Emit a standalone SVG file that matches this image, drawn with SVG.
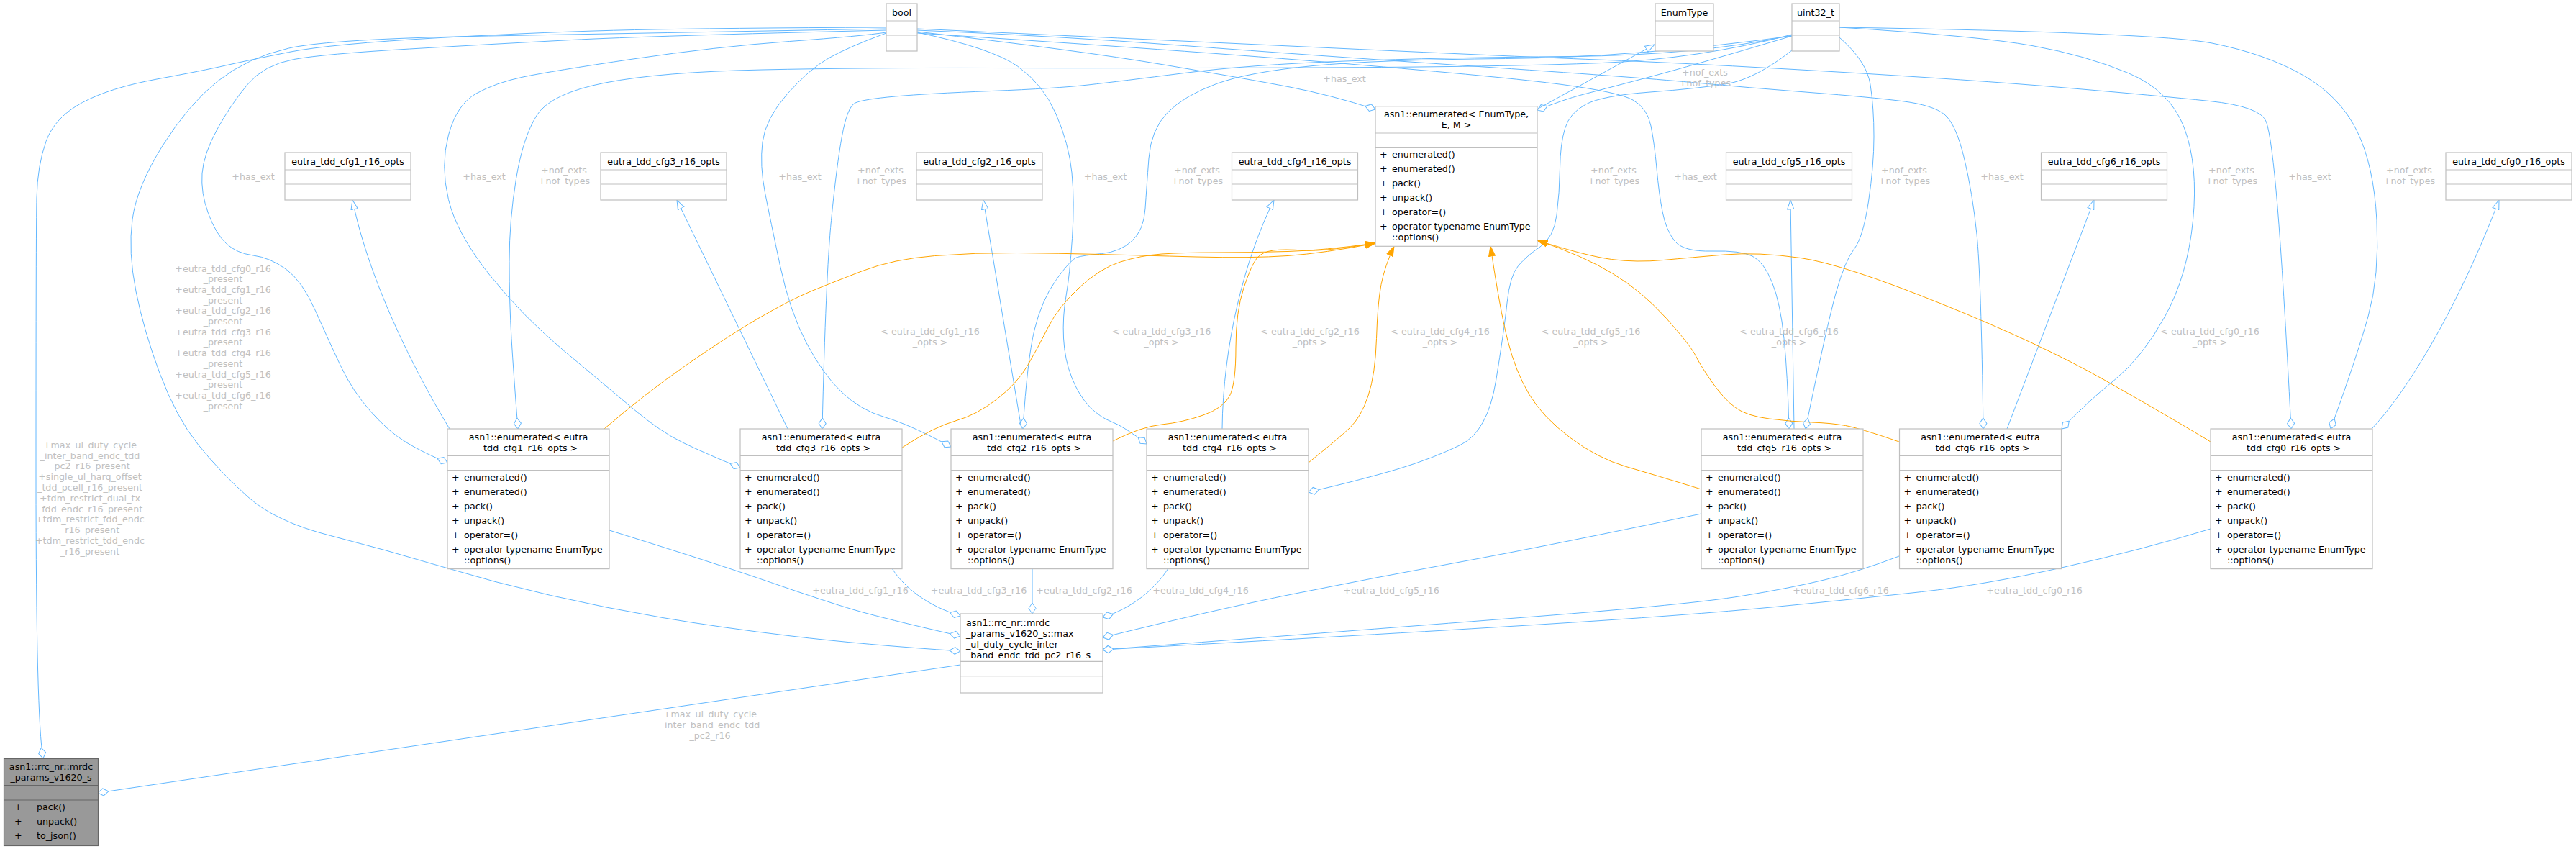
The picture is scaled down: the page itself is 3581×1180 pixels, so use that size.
<svg xmlns="http://www.w3.org/2000/svg" width="3581" height="1180" viewBox="0 0 3581 1180">
<style>
.box{fill:#fff;stroke:#BFBFBF;stroke-width:1.2}
.gbox{fill:#999;stroke:#666;stroke-width:1.2}
.sep{stroke:#BFBFBF;stroke-width:1.2}
.gsep{stroke:#666;stroke-width:1.2}
text{font-family:"DejaVu Sans",sans-serif;font-size:12.7px;fill:#000}
.c{text-anchor:middle}
.lbl{fill:#C0C0C0;text-anchor:middle}
.u{fill:none;stroke:#63B8FF;stroke-width:1;marker-end:url(#dia)}
.i{fill:none;stroke:#63B8FF;stroke-width:1;marker-end:url(#tri)}
.o{fill:none;stroke:#FFA500;stroke-width:1;marker-end:url(#arr)}
</style>
<defs>
<marker id="dia" viewBox="0 0 16 12" refX="15.5" refY="6" markerWidth="16" markerHeight="12" markerUnits="userSpaceOnUse" orient="auto"><path d="M0.5,6 L8,1 L15.5,6 L8,11 Z" fill="#fff" stroke="#63B8FF" stroke-width="1"/></marker>
<marker id="tri" viewBox="0 0 14 11" refX="13.5" refY="5.5" markerWidth="14" markerHeight="11" markerUnits="userSpaceOnUse" orient="auto"><path d="M0.5,0.8 L13.5,5.5 L0.5,10.2 Z" fill="#fff" stroke="#63B8FF" stroke-width="1"/></marker>
<marker id="arr" viewBox="0 0 15 11" refX="14.5" refY="5.5" markerWidth="15" markerHeight="11" markerUnits="userSpaceOnUse" orient="auto"><path d="M0.5,1 L14.5,5.5 L0.5,10 Z" fill="#FFA500" stroke="#FFA500"/></marker>
</defs>
<rect x="0" y="0" width="3581" height="1180" fill="#fff"/>
<g id="edges">
<path class="u" d="M1232,38 Q1000,39 882.5,41.5 Q765,44 612,52.5 Q459,61 401.5,72.5 Q344,84 313.5,91 Q283,98 218,110 Q153,122 114.5,142.5 Q76,163 64,196.5 Q52,230 51,275 Q50,320 50,660 Q50,1000 60,1054"/>
<path class="u" d="M1232,40 Q900,46 679.5,50 Q459,54 401.5,67 Q344,80 303,112.5 Q262,145 226,202.5 Q190,260 184,305 Q178,350 189,405 Q200,460 222.5,520 Q245,580 275.5,618 Q306,656 344.5,690.5 Q383,725 459.5,744.5 Q536,764 612.5,787 Q689,810 765.5,827.5 Q842,845 921,858.5 Q1000,872 1100,884 Q1200,896 1335,905"/>
<path class="u" d="M1232,42 Q900,50 794.5,55.5 Q689,61 569.5,68 Q450,75 408.5,82.5 Q367,90 344,117.5 Q321,145 302,179.5 Q283,214 281,241 Q279,268 289.5,296.5 Q300,325 314.5,338.5 Q329,352 352,355 Q375,358 397.5,374 Q420,390 439.5,434 Q459,478 474.5,510.5 Q490,543 515,571.5 Q540,600 565,615 Q590,630 622,643"/>
<path class="u" d="M1232,45 Q1200,50 1097.5,57.5 Q995,65 880,82 Q765,99 727,107 Q689,115 662,130 Q635,145 623.5,187.5 Q612,230 623.5,277.5 Q635,325 681,382.5 Q727,440 784.5,488 Q842,536 880,568 Q918,600 949,615 Q980,630 1029,650"/>
<path class="u" d="M1232,46 Q1180,65 1152.5,80.5 Q1125,96 1094.5,130.5 Q1064,165 1060,197.5 Q1056,230 1063.5,268 Q1071,306 1084.5,369.5 Q1098,433 1121,476.5 Q1144,520 1170,545 Q1196,570 1230.5,580 Q1265,590 1322,621"/>
<path class="u" d="M1275,45 Q1379,67 1414.5,92 Q1450,117 1468,158.5 Q1486,200 1490,240 Q1494,280 1490.5,331.5 Q1487,383 1482,411.5 Q1477,440 1478.5,470 Q1480,500 1490,525 Q1500,550 1514.5,565 Q1529,580 1546,586.5 Q1563,593 1594,617"/>
<path class="u" d="M1275,44 Q1500,70 1618,90 Q1736,110 1793,121 Q1850,132 1912,152"/>
<path class="u" d="M1275,46 Q1647,70 1870,88.5 Q2093,107 2171.5,117.5 Q2250,128 2270,139 Q2290,150 2295,175 Q2300,200 2303,234 Q2306,268 2311,294 Q2316,320 2328,335 Q2340,350 2380,349 Q2420,348 2436,356 Q2452,364 2463.5,392.5 Q2475,421 2480,470.5 Q2485,520 2487,596"/>
<path class="u" d="M1275,42 Q1468,50 1646.5,63.5 Q1825,77 2048,92 Q2271,107 2351.5,114.5 Q2432,122 2516,128.5 Q2600,135 2643.5,140.5 Q2687,146 2703,159 Q2719,172 2730.5,220 Q2742,268 2748,325.5 Q2754,383 2757,596"/>
<path class="u" d="M1275,40 Q1557,53 1825,65.5 Q2093,78 2221.5,83 Q2350,88 2546,99.5 Q2742,111 2871,122 Q3000,133 3071.5,140.5 Q3143,148 3150.5,169.5 Q3158,191 3166,287 Q3174,383 3185,596"/>
<path class="u" d="M2491,50 Q2350,92 2285.5,109 Q2221,126 2198,132 Q2175,138 2137,153"/>
<path class="i" d="M2140,150 L2300,62"/>
<path class="u" d="M2491,48 Q2361,82 2227,87.5 Q2093,93 1825,94 Q1557,95 1378.5,94.5 Q1200,94 1059,97 Q918,100 841.5,115 Q765,130 746,160.5 Q727,191 717.5,248.5 Q708,306 708,363.5 Q708,421 711,470.5 Q714,520 720,596"/>
<path class="u" d="M2491,49 Q2361,77 2182.5,78.5 Q2004,80 1870,85 Q1736,90 1646.5,101.5 Q1557,113 1512.5,118 Q1468,123 1378.5,126.5 Q1289,130 1244.5,134 Q1200,138 1189,143 Q1178,148 1170.5,189 Q1163,230 1155.5,306.5 Q1148,383 1143,596"/>
<path class="u" d="M2491,50 Q2271,80 2092.5,81.5 Q1914,83 1825,91.5 Q1736,100 1691,116.5 Q1646,133 1623,156.5 Q1600,180 1597,220 Q1594,260 1592,290 Q1590,320 1573.5,335 Q1557,350 1531.5,352.5 Q1506,355 1497.5,357.5 Q1489,360 1468.5,388.5 Q1448,417 1438,458.5 Q1428,500 1422,596"/>
<path class="u" d="M2491,70 Q2440,110 2400.5,116.5 Q2361,123 2294,128 Q2227,133 2204.5,145 Q2182,157 2175.5,178.5 Q2169,200 2168.5,234 Q2168,268 2164,299 Q2160,330 2141,343 Q2122,356 2110.5,369.5 Q2099,383 2095,421 Q2091,459 2079.5,529.5 Q2068,600 2030,618.5 Q1992,637 1946,651 Q1900,665 1819,684"/>
<path class="u" d="M2557,52 Q2595,85 2600,117.5 Q2605,150 2605,190 Q2605,230 2597.5,280 Q2590,330 2577.5,346 Q2565,362 2552.5,406 Q2540,450 2510,596"/>
<path class="u" d="M2557,38 Q2750,50 2825,63.5 Q2900,77 2958.5,101.5 Q3017,126 3036.5,178 Q3056,230 3048.5,306.5 Q3041,383 3009.5,440 Q2978,497 2939,528.5 Q2900,560 2866,596"/>
<path class="u" d="M2557,38 Q3000,45 3075,60 Q3150,75 3201.5,104.5 Q3253,134 3276.5,182 Q3300,230 3304,306.5 Q3308,383 3292,440 Q3276,497 3240,596"/>
<path class="i" d="M625,596 C585,530 515,400 490,278"/>
<path class="i" d="M1095,596 L941,278"/>
<path class="i" d="M1420,596 L1367,278"/>
<path class="i" d="M1699,596 C1700,480 1730,360 1771,278"/>
<path class="i" d="M2494,596 L2489,278"/>
<path class="i" d="M2790,596 L2911,278"/>
<path class="i" d="M3297,596 C3350,540 3420,420 3474,278"/>
<path class="o" d="M840,596 Q897,547 954.5,507 Q1012,467 1055,442 Q1098,417 1127,405 Q1156,393 1199,376.5 Q1242,360 1299.5,355.5 Q1357,351 1414,351.5 Q1471,352 1528.5,353.5 Q1586,355 1663,357 Q1740,359 1790,355.5 Q1840,352 1912,338"/>
<path class="o" d="M1254,622 Q1299,593 1328,585 Q1357,577 1385.5,555 Q1414,533 1428.5,508 Q1443,483 1457,455 Q1471,427 1500,400 Q1529,373 1557.5,364 Q1586,355 1615,353 Q1644,351 1692,351 Q1740,351 1790,349.5 Q1840,348 1912,338"/>
<path class="o" d="M1547,613 Q1586,593 1615,590 Q1644,587 1672.5,577 Q1701,567 1709.5,550 Q1718,533 1718,483 Q1718,433 1729,400 Q1740,367 1747.5,358.5 Q1755,350 1770,348 Q1785,346 1812,348 Q1839,350 1912,338"/>
<path class="o" d="M1819,643 Q1860,610 1876,595 Q1892,580 1902,550 Q1912,520 1913.5,470.5 Q1915,421 1920,395.5 Q1925,370 1938,342"/>
<path class="o" d="M2365,680 Q2300,660 2260.5,648.5 Q2221,637 2183,608.5 Q2145,580 2126,548.5 Q2107,517 2096,473.5 Q2085,430 2072,342"/>
<path class="o" d="M2640,614 Q2585,595 2565.5,591.5 Q2546,588 2518.5,587 Q2491,586 2459.5,582 Q2428,578 2412.5,566.5 Q2397,555 2381,532.5 Q2365,510 2357.5,495 Q2350,480 2316.5,442.5 Q2283,405 2241.5,380 Q2200,355 2137,334"/>
<path class="o" d="M3073,614 Q3017,580 2927,529 Q2837,478 2699.5,422.5 Q2562,367 2503,358.5 Q2444,350 2397,354 Q2350,358 2312.5,361.5 Q2275,365 2240.5,360.5 Q2206,356 2137,334"/>
<path class="u" d="M847,737 Q995,783 1071.5,809.5 Q1148,836 1187,847.5 Q1226,859 1335,884"/>
<path class="u" d="M1240,790 C1258,818 1290,842 1335,856"/>
<path class="u" d="M1435,790 L1435,853"/>
<path class="u" d="M1624,790 C1605,820 1572,846 1533,858"/>
<path class="u" d="M2365,714 Q2145,760 2030,781 Q1915,802 1800.5,825 Q1686,848 1533,886"/>
<path class="u" d="M2640,773 Q2585,794 2538,805.5 Q2491,817 2420.5,828.5 Q2350,840 2132.5,857 Q1915,874 1533,903"/>
<path class="u" d="M3073,735 Q2978,764 2868,788.5 Q2758,813 2671.5,822.5 Q2585,832 2467.5,843.5 Q2350,855 2132.5,868.5 Q1915,882 1533,903"/>
<path class="u" d="M1335,924 L136,1102"/>
</g>
<g id="edge-labels">
<text class="lbl" x="352" y="249.5">+has_ext</text>
<text class="lbl" x="673" y="249.5">+has_ext</text>
<text class="lbl" x="784" y="241">+nof_exts</text><text class="lbl" x="784" y="256">+nof_types</text>
<text class="lbl" x="1112" y="249.5">+has_ext</text>
<text class="lbl" x="1224" y="241">+nof_exts</text><text class="lbl" x="1224" y="256">+nof_types</text>
<text class="lbl" x="1536.5" y="249.5">+has_ext</text>
<text class="lbl" x="1664" y="241">+nof_exts</text><text class="lbl" x="1664" y="256">+nof_types</text>
<text class="lbl" x="1869" y="113.5">+has_ext</text>
<text class="lbl" x="2370" y="104.5">+nof_exts</text><text class="lbl" x="2370" y="120">+nof_types</text>
<text class="lbl" x="2243" y="241">+nof_exts</text><text class="lbl" x="2243" y="256">+nof_types</text>
<text class="lbl" x="2357" y="249.5">+has_ext</text>
<text class="lbl" x="2647" y="241">+nof_exts</text><text class="lbl" x="2647" y="256">+nof_types</text>
<text class="lbl" x="2783" y="249.5">+has_ext</text>
<text class="lbl" x="3102" y="241">+nof_exts</text><text class="lbl" x="3102" y="256">+nof_types</text>
<text class="lbl" x="3211" y="249.5">+has_ext</text>
<text class="lbl" x="3349" y="241">+nof_exts</text><text class="lbl" x="3349" y="256">+nof_types</text>
<text class="lbl" x="1293" y="465">&lt; eutra_tdd_cfg1_r16</text><text class="lbl" x="1293" y="480.3">_opts &gt;</text>
<text class="lbl" x="1614.5" y="465">&lt; eutra_tdd_cfg3_r16</text><text class="lbl" x="1614.5" y="480.3">_opts &gt;</text>
<text class="lbl" x="1821" y="465">&lt; eutra_tdd_cfg2_r16</text><text class="lbl" x="1821" y="480.3">_opts &gt;</text>
<text class="lbl" x="2002" y="465">&lt; eutra_tdd_cfg4_r16</text><text class="lbl" x="2002" y="480.3">_opts &gt;</text>
<text class="lbl" x="2211.5" y="465">&lt; eutra_tdd_cfg5_r16</text><text class="lbl" x="2211.5" y="480.3">_opts &gt;</text>
<text class="lbl" x="2487" y="465">&lt; eutra_tdd_cfg6_r16</text><text class="lbl" x="2487" y="480.3">_opts &gt;</text>
<text class="lbl" x="3072" y="465">&lt; eutra_tdd_cfg0_r16</text><text class="lbl" x="3072" y="480.3">_opts &gt;</text>
<text class="lbl" x="1196" y="825.2">+eutra_tdd_cfg1_r16</text>
<text class="lbl" x="1360.5" y="825.2">+eutra_tdd_cfg3_r16</text>
<text class="lbl" x="1507" y="825.2">+eutra_tdd_cfg2_r16</text>
<text class="lbl" x="1669" y="825.2">+eutra_tdd_cfg4_r16</text>
<text class="lbl" x="1934" y="825.2">+eutra_tdd_cfg5_r16</text>
<text class="lbl" x="2559" y="825.2">+eutra_tdd_cfg6_r16</text>
<text class="lbl" x="2828" y="825.2">+eutra_tdd_cfg0_r16</text>
<text class="lbl" x="310" y="377.5">+eutra_tdd_cfg0_r16</text>
<text class="lbl" x="310" y="392.2">_present</text>
<text class="lbl" x="310" y="406.9">+eutra_tdd_cfg1_r16</text>
<text class="lbl" x="310" y="421.6">_present</text>
<text class="lbl" x="310" y="436.3">+eutra_tdd_cfg2_r16</text>
<text class="lbl" x="310" y="451">_present</text>
<text class="lbl" x="310" y="465.7">+eutra_tdd_cfg3_r16</text>
<text class="lbl" x="310" y="480.4">_present</text>
<text class="lbl" x="310" y="495.1">+eutra_tdd_cfg4_r16</text>
<text class="lbl" x="310" y="509.8">_present</text>
<text class="lbl" x="310" y="524.5">+eutra_tdd_cfg5_r16</text>
<text class="lbl" x="310" y="539.2">_present</text>
<text class="lbl" x="310" y="553.9">+eutra_tdd_cfg6_r16</text>
<text class="lbl" x="310" y="568.6">_present</text>
<text class="lbl" x="125" y="622.8">+max_ul_duty_cycle</text>
<text class="lbl" x="125" y="637.6">_inter_band_endc_tdd</text>
<text class="lbl" x="125" y="652.4">_pc2_r16_present</text>
<text class="lbl" x="125" y="667.2">+single_ul_harq_offset</text>
<text class="lbl" x="125" y="682">_tdd_pcell_r16_present</text>
<text class="lbl" x="125" y="696.8">+tdm_restrict_dual_tx</text>
<text class="lbl" x="125" y="711.6">_fdd_endc_r16_present</text>
<text class="lbl" x="125" y="726.4">+tdm_restrict_fdd_endc</text>
<text class="lbl" x="125" y="741.2">_r16_present</text>
<text class="lbl" x="125" y="756">+tdm_restrict_tdd_endc</text>
<text class="lbl" x="125" y="770.8">_r16_present</text>
<text class="lbl" x="987" y="997">+max_ul_duty_cycle</text>
<text class="lbl" x="987" y="1012">_inter_band_endc_tdd</text>
<text class="lbl" x="987" y="1027">_pc2_r16</text>
</g>
<g id="node-bool"><rect class="box" x="1232" y="5" width="43" height="66"/><line class="sep" x1="1232" y1="29" x2="1275" y2="29"/><line class="sep" x1="1232" y1="49" x2="1275" y2="49"/><text class="c" x="1253.5" y="21.5">bool</text></g>
<g id="node-EnumType"><rect class="box" x="2301" y="5" width="81" height="66"/><line class="sep" x1="2301" y1="29" x2="2382" y2="29"/><line class="sep" x1="2301" y1="49" x2="2382" y2="49"/><text class="c" x="2341.5" y="21.5">EnumType</text></g>
<g id="node-uint32_t"><rect class="box" x="2491" y="5" width="66" height="66"/><line class="sep" x1="2491" y1="29" x2="2557" y2="29"/><line class="sep" x1="2491" y1="49" x2="2557" y2="49"/><text class="c" x="2524" y="21.5">uint32_t</text></g>
<g id="node-enumE"><rect class="box" x="1912" y="147.7" width="225" height="194.6"/><line class="sep" x1="1912" y1="185" x2="2137" y2="185"/><line class="sep" x1="1912" y1="205.3" x2="2137" y2="205.3"/><text class="c" x="2024.5" y="163.3">asn1::enumerated&lt; EnumType,</text><text class="c" x="2024.5" y="178.3">E, M &gt;</text>
<text x="1918" y="219.3">+</text><text x="1935" y="219.3">enumerated()</text>
<text x="1918" y="239.3">+</text><text x="1935" y="239.3">enumerated()</text>
<text x="1918" y="259.3">+</text><text x="1935" y="259.3">pack()</text>
<text x="1918" y="279.3">+</text><text x="1935" y="279.3">unpack()</text>
<text x="1918" y="299.3">+</text><text x="1935" y="299.3">operator=()</text>
<text x="1918" y="319.3">+</text><text x="1935" y="319.3">operator typename EnumType</text><text x="1935" y="334.3">::options()</text></g>
<g id="node-cfg1-opts"><rect class="box" x="396" y="212" width="175" height="66"/><line class="sep" x1="396" y1="236" x2="571" y2="236"/><line class="sep" x1="396" y1="256" x2="571" y2="256"/><text class="c" x="483.5" y="228.5">eutra_tdd_cfg1_r16_opts</text></g>
<g id="node-cfg3-opts"><rect class="box" x="835" y="212" width="175" height="66"/><line class="sep" x1="835" y1="236" x2="1010" y2="236"/><line class="sep" x1="835" y1="256" x2="1010" y2="256"/><text class="c" x="922.5" y="228.5">eutra_tdd_cfg3_r16_opts</text></g>
<g id="node-cfg2-opts"><rect class="box" x="1274" y="212" width="175" height="66"/><line class="sep" x1="1274" y1="236" x2="1449" y2="236"/><line class="sep" x1="1274" y1="256" x2="1449" y2="256"/><text class="c" x="1361.5" y="228.5">eutra_tdd_cfg2_r16_opts</text></g>
<g id="node-cfg4-opts"><rect class="box" x="1712.5" y="212" width="175" height="66"/><line class="sep" x1="1712.5" y1="236" x2="1887.5" y2="236"/><line class="sep" x1="1712.5" y1="256" x2="1887.5" y2="256"/><text class="c" x="1800" y="228.5">eutra_tdd_cfg4_r16_opts</text></g>
<g id="node-cfg5-opts"><rect class="box" x="2399.5" y="212" width="175" height="66"/><line class="sep" x1="2399.5" y1="236" x2="2574.5" y2="236"/><line class="sep" x1="2399.5" y1="256" x2="2574.5" y2="256"/><text class="c" x="2487" y="228.5">eutra_tdd_cfg5_r16_opts</text></g>
<g id="node-cfg6-opts"><rect class="box" x="2837.5" y="212" width="175" height="66"/><line class="sep" x1="2837.5" y1="236" x2="3012.5" y2="236"/><line class="sep" x1="2837.5" y1="256" x2="3012.5" y2="256"/><text class="c" x="2925" y="228.5">eutra_tdd_cfg6_r16_opts</text></g>
<g id="node-cfg0-opts"><rect class="box" x="3400" y="212" width="175" height="66"/><line class="sep" x1="3400" y1="236" x2="3575" y2="236"/><line class="sep" x1="3400" y1="256" x2="3575" y2="256"/><text class="c" x="3487.5" y="228.5">eutra_tdd_cfg0_r16_opts</text></g>
<g id="node-enum-cfg1"><rect class="box" x="622" y="596" width="225" height="194.6"/><line class="sep" x1="622" y1="633.3" x2="847" y2="633.3"/><line class="sep" x1="622" y1="653.6" x2="847" y2="653.6"/><text class="c" x="734.5" y="611.6">asn1::enumerated&lt; eutra</text><text class="c" x="734.5" y="626.6">_tdd_cfg1_r16_opts &gt;</text>
<text x="628" y="667.6">+</text><text x="645" y="667.6">enumerated()</text><text x="628" y="687.6">+</text><text x="645" y="687.6">enumerated()</text><text x="628" y="707.6">+</text><text x="645" y="707.6">pack()</text><text x="628" y="727.6">+</text><text x="645" y="727.6">unpack()</text><text x="628" y="747.6">+</text><text x="645" y="747.6">operator=()</text><text x="628" y="767.6">+</text><text x="645" y="767.6">operator typename EnumType</text><text x="645" y="782.6">::options()</text></g>
<g id="node-enum-cfg3"><rect class="box" x="1029" y="596" width="225" height="194.6"/><line class="sep" x1="1029" y1="633.3" x2="1254" y2="633.3"/><line class="sep" x1="1029" y1="653.6" x2="1254" y2="653.6"/><text class="c" x="1141.5" y="611.6">asn1::enumerated&lt; eutra</text><text class="c" x="1141.5" y="626.6">_tdd_cfg3_r16_opts &gt;</text>
<text x="1035" y="667.6">+</text><text x="1052" y="667.6">enumerated()</text><text x="1035" y="687.6">+</text><text x="1052" y="687.6">enumerated()</text><text x="1035" y="707.6">+</text><text x="1052" y="707.6">pack()</text><text x="1035" y="727.6">+</text><text x="1052" y="727.6">unpack()</text><text x="1035" y="747.6">+</text><text x="1052" y="747.6">operator=()</text><text x="1035" y="767.6">+</text><text x="1052" y="767.6">operator typename EnumType</text><text x="1052" y="782.6">::options()</text></g>
<g id="node-enum-cfg2"><rect class="box" x="1322" y="596" width="225" height="194.6"/><line class="sep" x1="1322" y1="633.3" x2="1547" y2="633.3"/><line class="sep" x1="1322" y1="653.6" x2="1547" y2="653.6"/><text class="c" x="1434.5" y="611.6">asn1::enumerated&lt; eutra</text><text class="c" x="1434.5" y="626.6">_tdd_cfg2_r16_opts &gt;</text>
<text x="1328" y="667.6">+</text><text x="1345" y="667.6">enumerated()</text><text x="1328" y="687.6">+</text><text x="1345" y="687.6">enumerated()</text><text x="1328" y="707.6">+</text><text x="1345" y="707.6">pack()</text><text x="1328" y="727.6">+</text><text x="1345" y="727.6">unpack()</text><text x="1328" y="747.6">+</text><text x="1345" y="747.6">operator=()</text><text x="1328" y="767.6">+</text><text x="1345" y="767.6">operator typename EnumType</text><text x="1345" y="782.6">::options()</text></g>
<g id="node-enum-cfg4"><rect class="box" x="1594" y="596" width="225" height="194.6"/><line class="sep" x1="1594" y1="633.3" x2="1819" y2="633.3"/><line class="sep" x1="1594" y1="653.6" x2="1819" y2="653.6"/><text class="c" x="1706.5" y="611.6">asn1::enumerated&lt; eutra</text><text class="c" x="1706.5" y="626.6">_tdd_cfg4_r16_opts &gt;</text>
<text x="1600" y="667.6">+</text><text x="1617" y="667.6">enumerated()</text><text x="1600" y="687.6">+</text><text x="1617" y="687.6">enumerated()</text><text x="1600" y="707.6">+</text><text x="1617" y="707.6">pack()</text><text x="1600" y="727.6">+</text><text x="1617" y="727.6">unpack()</text><text x="1600" y="747.6">+</text><text x="1617" y="747.6">operator=()</text><text x="1600" y="767.6">+</text><text x="1617" y="767.6">operator typename EnumType</text><text x="1617" y="782.6">::options()</text></g>
<g id="node-enum-cfg5"><rect class="box" x="2365" y="596" width="225" height="194.6"/><line class="sep" x1="2365" y1="633.3" x2="2590" y2="633.3"/><line class="sep" x1="2365" y1="653.6" x2="2590" y2="653.6"/><text class="c" x="2477.5" y="611.6">asn1::enumerated&lt; eutra</text><text class="c" x="2477.5" y="626.6">_tdd_cfg5_r16_opts &gt;</text>
<text x="2371" y="667.6">+</text><text x="2388" y="667.6">enumerated()</text><text x="2371" y="687.6">+</text><text x="2388" y="687.6">enumerated()</text><text x="2371" y="707.6">+</text><text x="2388" y="707.6">pack()</text><text x="2371" y="727.6">+</text><text x="2388" y="727.6">unpack()</text><text x="2371" y="747.6">+</text><text x="2388" y="747.6">operator=()</text><text x="2371" y="767.6">+</text><text x="2388" y="767.6">operator typename EnumType</text><text x="2388" y="782.6">::options()</text></g>
<g id="node-enum-cfg6"><rect class="box" x="2640.5" y="596" width="225" height="194.6"/><line class="sep" x1="2640.5" y1="633.3" x2="2865.5" y2="633.3"/><line class="sep" x1="2640.5" y1="653.6" x2="2865.5" y2="653.6"/><text class="c" x="2753" y="611.6">asn1::enumerated&lt; eutra</text><text class="c" x="2753" y="626.6">_tdd_cfg6_r16_opts &gt;</text>
<text x="2646.5" y="667.6">+</text><text x="2663.5" y="667.6">enumerated()</text><text x="2646.5" y="687.6">+</text><text x="2663.5" y="687.6">enumerated()</text><text x="2646.5" y="707.6">+</text><text x="2663.5" y="707.6">pack()</text><text x="2646.5" y="727.6">+</text><text x="2663.5" y="727.6">unpack()</text><text x="2646.5" y="747.6">+</text><text x="2663.5" y="747.6">operator=()</text><text x="2646.5" y="767.6">+</text><text x="2663.5" y="767.6">operator typename EnumType</text><text x="2663.5" y="782.6">::options()</text></g>
<g id="node-enum-cfg0"><rect class="box" x="3073" y="596" width="225" height="194.6"/><line class="sep" x1="3073" y1="633.3" x2="3298" y2="633.3"/><line class="sep" x1="3073" y1="653.6" x2="3298" y2="653.6"/><text class="c" x="3185.5" y="611.6">asn1::enumerated&lt; eutra</text><text class="c" x="3185.5" y="626.6">_tdd_cfg0_r16_opts &gt;</text>
<text x="3079" y="667.6">+</text><text x="3096" y="667.6">enumerated()</text><text x="3079" y="687.6">+</text><text x="3096" y="687.6">enumerated()</text><text x="3079" y="707.6">+</text><text x="3096" y="707.6">pack()</text><text x="3079" y="727.6">+</text><text x="3096" y="727.6">unpack()</text><text x="3079" y="747.6">+</text><text x="3096" y="747.6">operator=()</text><text x="3079" y="767.6">+</text><text x="3096" y="767.6">operator typename EnumType</text><text x="3096" y="782.6">::options()</text></g>
<g id="node-max-ul-duty"><rect class="box" x="1335" y="853" width="198" height="110"/><line class="sep" x1="1335" y1="919.4" x2="1533" y2="919.4"/><line class="sep" x1="1335" y1="939.7" x2="1533" y2="939.7"/><text x="1343" y="869.5">asn1::rrc_nr::mrdc</text><text x="1343" y="884.5">_params_v1620_s::max</text><text x="1343" y="899.5">_ul_duty_cycle_inter</text><text x="1343" y="914.5">_band_endc_tdd_pc2_r16_s_</text></g>
<g id="node-mrdc-params"><rect class="gbox" x="5.5" y="1054.5" width="131" height="121"/><line class="gsep" x1="5.5" y1="1091.6" x2="136.5" y2="1091.6"/><line class="gsep" x1="5.5" y1="1112" x2="136.5" y2="1112"/><text class="c" x="71" y="1070">asn1::rrc_nr::mrdc</text><text class="c" x="71" y="1085">_params_v1620_s</text>
<text x="20" y="1125.5">+</text><text x="51" y="1125.5">pack()</text><text x="20" y="1145.5">+</text><text x="51" y="1145.5">unpack()</text><text x="20" y="1165.5">+</text><text x="51" y="1165.5">to_json()</text></g>
</svg>
